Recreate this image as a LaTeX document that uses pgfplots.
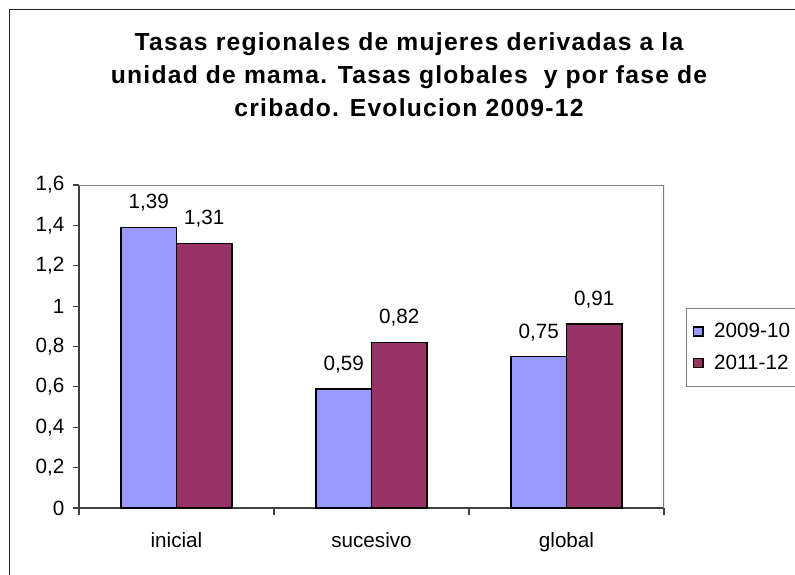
\documentclass[border=0pt]{standalone}
\usepackage{fontspec}
\setmainfont{Liberation Sans}
\newfontfamily\titlefont[LetterSpace=5]{Liberation Sans}
\usepackage{pgfplots}
\pgfplotsset{compat=1.18}
\definecolor{serA}{HTML}{9999FF}
\definecolor{serB}{HTML}{993366}
\definecolor{axdark}{HTML}{404040}
\definecolor{axgray}{HTML}{808080}

\begin{document}
\begin{tikzpicture}
  % 795 x 574 px, 1 px = 0.75 pt
  \path[use as bounding box] (0,0) rectangle (596.25pt,-430.5pt);
  \clip (0,0) rectangle (596.25pt,-430.5pt);
  \draw[black!85, line width=0.9pt] (7.2pt,-6.9pt) rectangle (700pt,-500pt);

  \begin{scope}[every node/.style={anchor=base, font=\titlefont\fontsize{18.5}{22}\selectfont\bfseries}]
    \node at (306.75pt,-38.2pt) {Tasas regionales de mujeres derivadas a la};
    \node at (306.75pt,-63pt) {unidad de mama. Tasas globales\ \ y por fase de};
    \node at (306.75pt,-87.7pt) {cribado. Evolucion 2009-12};
  \end{scope}

  \begin{axis}[
      at={(59.25pt,-381pt)}, anchor=south west, scale only axis,
      width=438.75pt, height=242.25pt,
      ybar=0pt, bar width=41.5pt,
      xmin=-0.5, xmax=2.5, ymin=0, ymax=1.6,
      xtick={0,1,2}, xticklabels={inicial,sucesivo,global},
      minor xtick={-0.5,0.5,1.5,2.5},
      ytick={0,0.2,0.4,0.6,0.8,1,1.2,1.4,1.6},
      axis x line*=bottom, axis y line*=left,
      axis line style={axdark, line width=0.9pt, -},
      tick align=outside, major tick length=4.5pt, minor tick length=5.25pt,
      major x tick style={draw=none},
      y tick style={axdark, line width=0.9pt},
      minor x tick style={axdark, line width=0.9pt},
      /pgf/number format/assume math mode=true,
      tick label style={font=\fontsize{15.5}{18}\selectfont},
      y tick label style={xshift=-3pt, /pgf/number format/.cd, use comma, fixed, precision=1},
      x tick label style={yshift=-10pt},
      nodes near coords={\pgfmathprintnumber[use comma, fixed, fixed zerofill, precision=2]{\pgfplotspointmeta}},
      every node near coord/.append style={font=\fontsize{15.5}{18}\selectfont, yshift=8pt},
      legend style={at={(1.0376,0.619)}, anchor=north west, draw=axgray, line width=0.9pt,
        fill=white, inner xsep=5pt, inner ysep=9pt, row sep=7.5pt,
        font=\fontsize{15.5}{18}\selectfont,
        /tikz/every odd column/.append style={column sep=6pt}},
      legend cell align=left,
      legend image code/.code={\draw[#1, line width=0.9pt] (0pt,-3.4pt) rectangle (6.8pt,3.4pt);},
    ]
    \addplot[fill=serA, draw=black, line width=1.2pt] coordinates {(0,1.39) (1,0.59) (2,0.75)};
    \addplot[fill=serB, draw=black, line width=1.2pt] coordinates {(0,1.31) (1,0.82) (2,0.91)};
    \legend{2009-10,2011-12}
    \draw[axgray, line width=0.9pt] (rel axis cs:0,1) -- (rel axis cs:1,1) -- (rel axis cs:1,0);
  \end{axis}
\end{tikzpicture}
\end{document}
